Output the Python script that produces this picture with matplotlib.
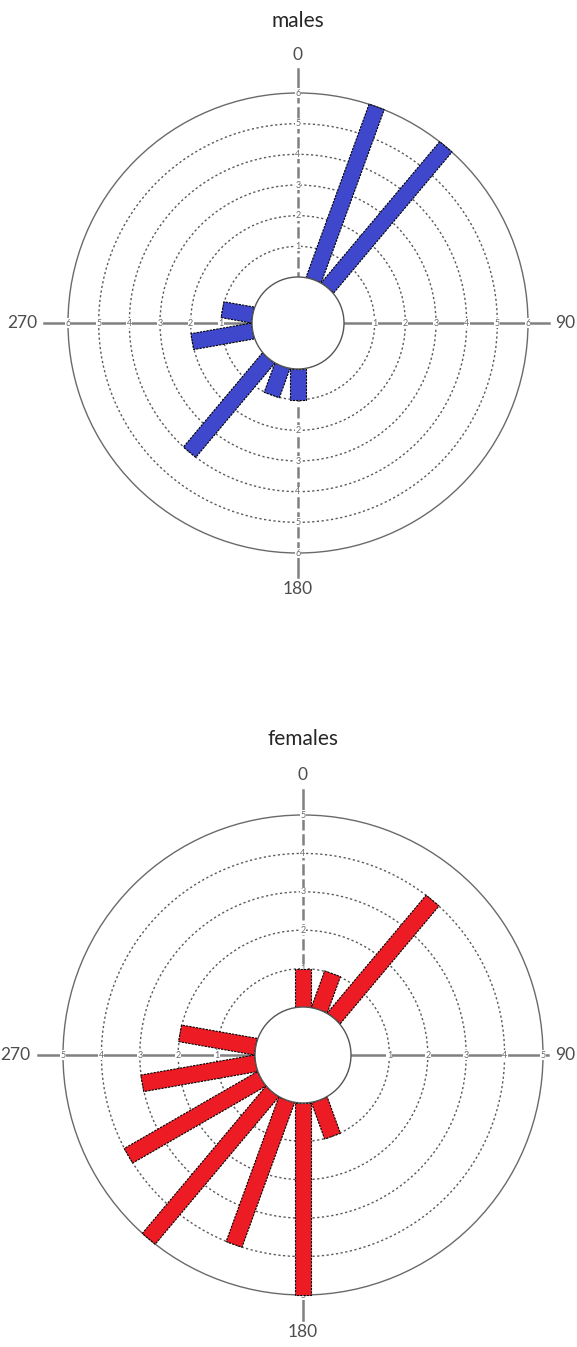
import matplotlib.pyplot as plt
from matplotlib.patches import Circle, Rectangle
from matplotlib.transforms import Affine2D

# direccion de cada barra (grados, 0 = norte, sentido horario) y numero de casos
male_dirs = [20, 40, 180, 200, 220, 260, 280]
male_counts = [6, 6, 1, 1, 4, 2, 1]
female_dirs = [0, 20, 40, 160, 180, 200, 220, 240, 260, 280]
female_counts = [1, 1, 4, 1, 5, 4, 5, 4, 3, 2]
compass_labels = ['0', '90', '180', '270']

W, H = 577, 1347
HOLE = 0.2      # radio del circulo central (fraccion del radio exterior)
BAR_W = 0.07    # ancho constante de las barras
AXIS_GRAY = '#808080'
FONT = ['Lato', 'DejaVu Sans']


def radio(v, vmax):
    return HOLE + (1 - HOLE) * v / vmax


def dibujar_rosa(fig, cx, cy, R, top, bottom, dirs, counts, vmax, color, title):
    """Rosa de direcciones con barras rectangulares y hueco central."""
    ax = fig.add_axes([0, 1 - bottom / H, 1, (bottom - top) / H])
    ax.set_xlim(-cx / R, (W - cx) / R)
    ax.set_ylim(-(bottom - cy) / R, (cy - top) / R)
    ax.axis('off')

    # circulos de referencia
    for k in range(1, vmax):
        ax.add_patch(Circle((0, 0), radio(k, vmax), fill=False, ec='#5a5a5a',
                            lw=1.0, ls=(0, (1.6, 1.8)), zorder=1))
    ax.add_patch(Circle((0, 0), 1, fill=False, ec='#6a6a6a', lw=1.0, zorder=1))

    # posicion de la etiqueta 90 (se acerca si no cabe en la figura)
    x90 = min(1.17, (W - cx - 12) / R)

    # ejes: horizontal continuo, vertical discontinuo dentro del circulo
    ext = 1.105
    ax.plot([-ext, min(ext, x90 - 0.07)], [0, 0], color=AXIS_GRAY, lw=1.8, zorder=2)
    ax.plot([0, 0], [-1, 1], color=AXIS_GRAY, lw=1.8, ls=(0, (4.5, 1.5)), zorder=2)
    ax.plot([0, 0], [1, ext], color=AXIS_GRAY, lw=1.8, zorder=2)
    ax.plot([0, 0], [-1, -ext], color=AXIS_GRAY, lw=1.8, zorder=2)

    # etiquetas de conteo sobre los ejes
    for k in range(1, vmax + 1):
        r = radio(k, vmax)
        for x, y in [(0, r), (0, -r), (r, 0), (-r, 0)]:
            ax.text(x, y, str(k), ha='center', va='center', fontsize=6.5,
                    color='#6b6b6b', family=FONT, zorder=3,
                    bbox=dict(boxstyle='square,pad=0.05', fc='white', ec='none'))

    # barras: rectangulo en el marco radial, girado hacia su direccion
    for d, c in zip(dirs, counts):
        largo = radio(c, vmax) - HOLE
        rot = Affine2D().rotate_deg(90 - d) + ax.transData
        ax.add_patch(Rectangle((HOLE, -BAR_W / 2), largo, BAR_W, fc=color,
                               ec='black', lw=0.8, ls=(0, (2, 1)),
                               transform=rot, zorder=4))

    ax.add_patch(Circle((0, 0), HOLE, fc='white', ec='#555555', lw=1.0, zorder=5))

    lab_kw = dict(ha='center', va='center', fontsize=12.5, color='#4d4d4d',
                  family=FONT, clip_on=False)
    ax.text(0, 1.165, compass_labels[0], **lab_kw)
    ax.text(x90, 0, compass_labels[1], **lab_kw)
    ax.text(0, -1.155, compass_labels[2], **lab_kw)
    ax.text(-1.2, 0, compass_labels[3], **lab_kw)
    ax.text(0, 1.315, title, ha='center', va='center', fontsize=15,
            color='#262626', family=FONT)
    return ax


fig = plt.figure(figsize=(W / 100, H / 100), dpi=100)
dibujar_rosa(fig, 298, 323, 230, 0, 660, male_dirs, male_counts, 6,
             '#3f48cc', 'males')
dibujar_rosa(fig, 303, 1055, 240, 690, H, female_dirs, female_counts, 5,
             '#ed1c24', 'females')
fig.savefig('out.png', dpi=100)
